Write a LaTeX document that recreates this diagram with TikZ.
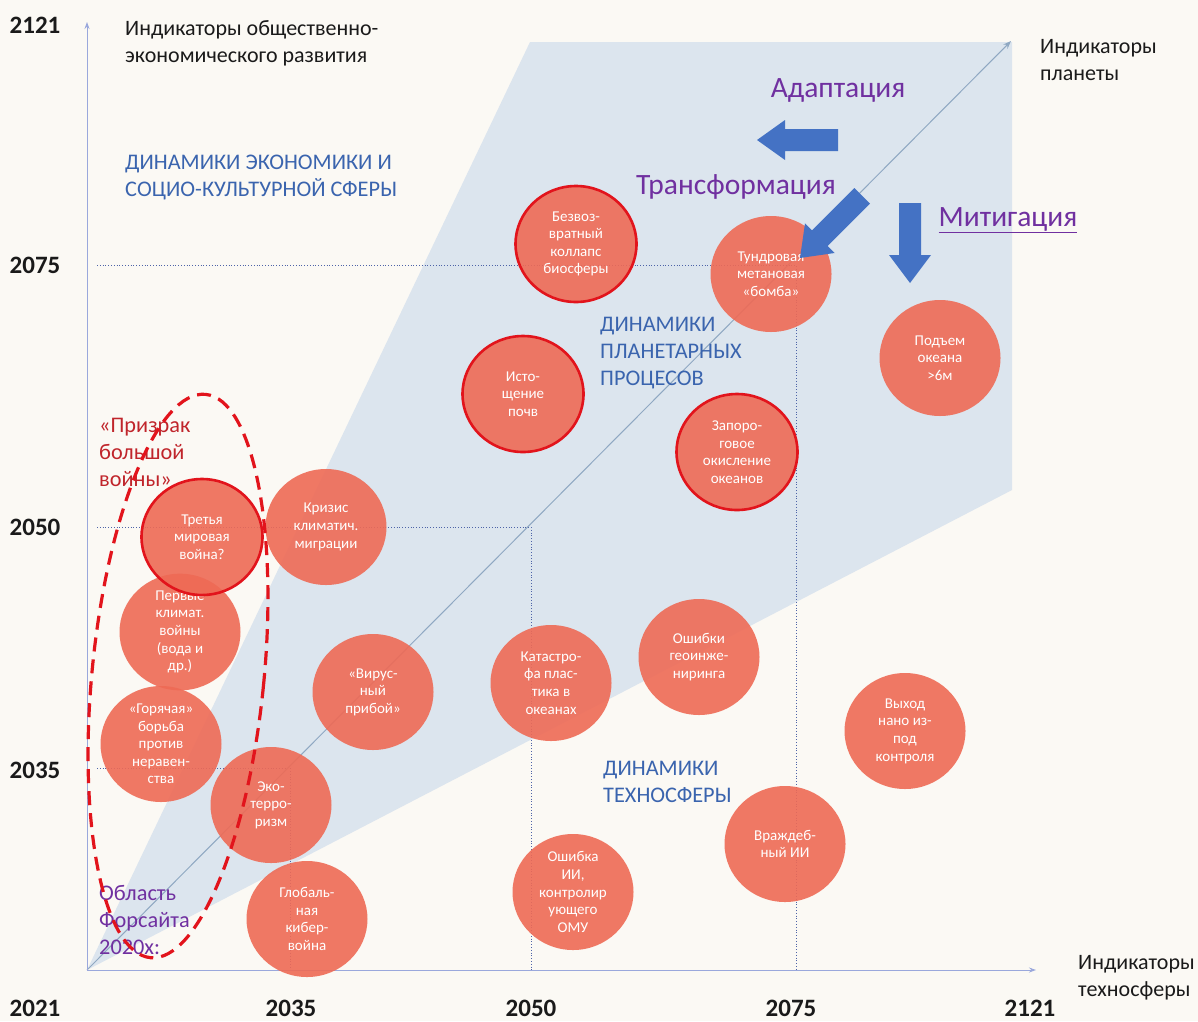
\documentclass[tikz,border=0pt]{standalone}
\usepackage{fontspec}
\setmainfont{Carlito}
\usetikzlibrary{arrows.meta,shapes.geometric}
\definecolor{paper}{HTML}{FBF9F4}
\definecolor{zone}{HTML}{DCE5EE}
\definecolor{coral}{HTML}{EE6A55}
\definecolor{rim}{HTML}{E2141C}
\definecolor{axisc}{HTML}{9AA8DC}
\definecolor{diagc}{HTML}{8FA8C2}
\definecolor{guide}{HTML}{4E64A8}
\definecolor{dynblue}{HTML}{3A64AE}
\definecolor{purp}{HTML}{7030A0}
\definecolor{ghostred}{HTML}{C0252B}
\definecolor{arrowblue}{HTML}{4472C4}
\definecolor{ink}{HTML}{1A1A1A}
\tikzset{
  risk/.style={ellipse, minimum width=121pt, minimum height=116pt, inner sep=0pt,
    fill=coral, fill opacity=0.9, text opacity=1, text=white, align=center,
    font=\fontsize{15}{17.6}\selectfont},
  redrim/.style={draw=rim, line width=2.6pt, draw opacity=1},
  axisline/.style={draw=axisc, line width=1pt, -{Stealth[length=7pt,width=5pt]}},
  guideline/.style={draw=guide, line width=0.8pt, dotted},
  ticklabel/.style={font=\fontsize{25}{28}\selectfont\bfseries, text=ink, inner sep=0pt},
  caption/.style={font=\fontsize{22}{27}\selectfont, text=ink, align=left, inner sep=0pt, anchor=west},
  dynlabel/.style={font=\fontsize{22.3}{27}\selectfont, text=dynblue, align=left, inner sep=0pt, anchor=west},
  actlabel/.style={font=\fontsize{29.5}{32}\selectfont, text=purp, inner sep=0pt},
  sidenote/.style={font=\fontsize{22.3}{27}\selectfont, align=left, inner sep=0pt, anchor=west},
  blockarrow/.style={fill=arrowblue},
  ghost/.style={draw=rim, line width=3.2pt, dash pattern=on 14pt off 8pt},
}
\begin{document}
\begin{tikzpicture}[x=1pt,y=-1pt]
% canvas
\fill[paper] (0,0) rectangle (1198,1021);
\useasboundingbox (0,0) rectangle (1198,1021);

\coordinate (O) at (87,970);
\coordinate (ytip) at (87,22);
\coordinate (xtip) at (1036,970);
\coordinate (dtip) at (1011,41);

% planetary dynamics zone
\fill[zone] (O) -- (530,42) -- (1012,42) -- (1012,490) -- cycle;

% guide lines for the time marks
\draw[guideline] (97,265) -- (796,265) -- (796,970);
\draw[guideline] (97,527) -- (531,527) -- (531,970);
\draw[guideline] (97,768) -- (290,768) -- (290,970);

% diagonal and axes
\draw[draw=diagc, line width=1pt, -{Stealth[length=8pt,width=6pt]}] (O) -- (dtip);
\draw[axisline] (O) -- (ytip);
\draw[axisline] (O) -- (xtip);

% time marks
\node[ticklabel] (y2121) at (35,25) {2121};
\node[ticklabel] (y2075) at (35,265) {2075};
\node[ticklabel] (y2050) at (35,527) {2050};
\node[ticklabel] (y2035) at (35,770) {2035};
\node[ticklabel] (x2021) at (35,1008) {2021};
\node[ticklabel] (x2035) at (291,1008) {2035};
\node[ticklabel] (x2050) at (531,1008) {2050};
\node[ticklabel] (x2075) at (791,1008) {2075};
\node[ticklabel] (x2121) at (1030,1008) {2121};

% axis captions
\node[caption] (capy) at (125,43) {Индикаторы общественно-\\экономического развития};
\node[caption] (capd) at (1040,60) {Индикаторы\\планеты};
\node[caption] (capx) at (1078,978) {Индикаторы\\техносферы};

% dynamics labels
\node[dynlabel] (dynecon) at (125,177) {ДИНАМИКИ ЭКОНОМИКИ И\\СОЦИО-КУЛЬТУРНОЙ СФЕРЫ};
\node[dynlabel] (dynplan) at (600,353) {ДИНАМИКИ\\ПЛАНЕТАРНЫХ\\ПРОЦЕСОВ};
\node[dynlabel] (dyntech) at (603,782) {ДИНАМИКИ\\ТЕХНОСФЕРЫ};

% risks
\node[risk] (c2) at (771,274) {Тундровая\\метановая\\«бомба»};
\node[risk] (c3) at (940,358) {Подъем\\океана\\>6м};
\node[risk] (c7) at (326,527) {Кризис\\климатич.\\миграции};
\node[risk] (c8) at (180,632) {Первые\\климат.\\войны\\(вода и\\др.)};
\node[risk] (c9) at (161,744) {«Горячая»\\борьба\\против\\неравен-\\ства};
\node[risk] (c10) at (373,692) {«Вирус-\\ный\\прибой»};
\node[risk] (c11) at (271,805) {Эко-\\терро-\\ризм};
\node[risk] (c12) at (307,919) {Глобаль-\\ная\\кибер-\\война};
\node[risk] (c13) at (551,683) {Катастро-\\фа плас-\\тика в\\океанах};
\node[risk] (c14) at (699,657) {Ошибки\\геоинже-\\ниринга};
\node[risk] (c15) at (573,892) {Ошибка\\ИИ,\\контролир\\ующего\\ОМУ};
\node[risk] (c16) at (785,844) {Враждеб-\\ный ИИ};
\node[risk] (c17) at (905,731) {Выход\\нано из-\\под\\контроля};
\node[risk, redrim] (c1) at (576,244) {Безвоз-\\вратный\\коллапс\\биосферы};
\node[risk, redrim] (c4) at (523,394) {Исто-\\щение\\почв};
\node[risk, redrim] (c5) at (737,452) {Запоро-\\говое\\окисление\\океанов};
\node[risk, redrim] (c6) at (202,537) {Третья\\мировая\\война?};

% responses
\node[actlabel] (adapt) at (838,90) {Адаптация};
\node[actlabel] (transf) at (736,187) {Трансформация};
\node[actlabel] (mitig) at (1008,220) {\underline{Митигация}};

\fill[blockarrow] (838,129) -- (785,129) -- (785,120) -- (757,140) -- (785,160) -- (785,151) -- (838,151) -- cycle;
\fill[blockarrow] (870,203.6) -- (827.6,246) -- (834.6,253) -- (800,258) -- (805,223.4) -- (812,230.4) -- (854.4,188) -- cycle;
\fill[blockarrow] (899,203) -- (899,255) -- (889,255) -- (910,283) -- (931,255) -- (921,255) -- (921,203) -- cycle;

% side notes
\node[sidenote, text=ghostred] (ghostnote) at (99,452) {«Призрак\\большой\\войны»};
\node[sidenote, text=purp] (foresight) at (99,920) {Область\\Форсайта\\2020х:};

% foresight area outline
\draw[ghost, rotate around={-5.6:(178,676)}] (178,676) ellipse [x radius=86, y radius=283];
\end{tikzpicture}
\end{document}
